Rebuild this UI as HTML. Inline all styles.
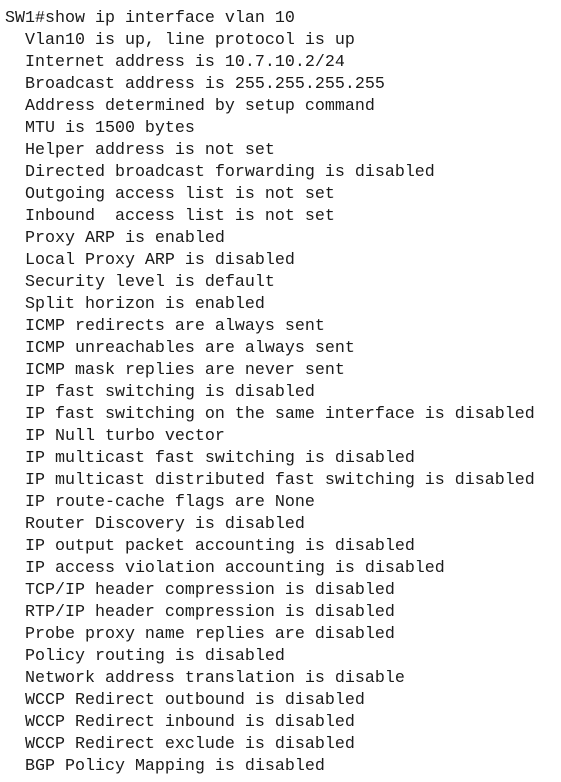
<!DOCTYPE html>
<html><head><meta charset="utf-8"><style>
html,body{margin:0;padding:0;background:#fff;width:561px;height:782px;overflow:hidden}
pre{margin:0;position:absolute;left:5px;top:8px;font-family:"Liberation Mono",monospace;font-size:16.67px;line-height:22px;color:#1a1a1a}
</style></head><body><pre>SW1#show ip interface vlan 10
  Vlan10 is up, line protocol is up
  Internet address is 10.7.10.2/24
  Broadcast address is 255.255.255.255
  Address determined by setup command
  MTU is 1500 bytes
  Helper address is not set
  Directed broadcast forwarding is disabled
  Outgoing access list is not set
  Inbound  access list is not set
  Proxy ARP is enabled
  Local Proxy ARP is disabled
  Security level is default
  Split horizon is enabled
  ICMP redirects are always sent
  ICMP unreachables are always sent
  ICMP mask replies are never sent
  IP fast switching is disabled
  IP fast switching on the same interface is disabled
  IP Null turbo vector
  IP multicast fast switching is disabled
  IP multicast distributed fast switching is disabled
  IP route-cache flags are None
  Router Discovery is disabled
  IP output packet accounting is disabled
  IP access violation accounting is disabled
  TCP/IP header compression is disabled
  RTP/IP header compression is disabled
  Probe proxy name replies are disabled
  Policy routing is disabled
  Network address translation is disable
  WCCP Redirect outbound is disabled
  WCCP Redirect inbound is disabled
  WCCP Redirect exclude is disabled
  BGP Policy Mapping is disabled</pre></body></html>
